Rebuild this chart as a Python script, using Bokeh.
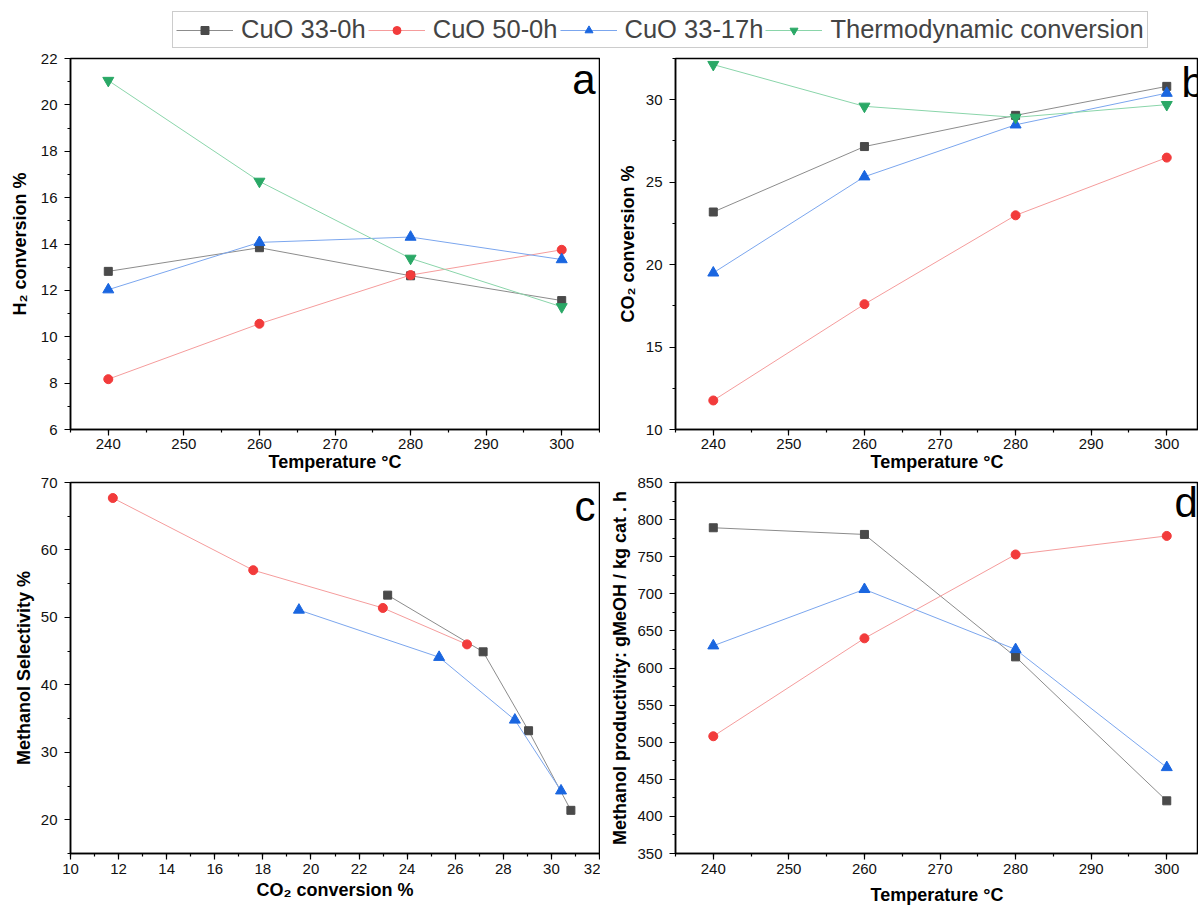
from bokeh.plotting import figure
from bokeh.layouts import column, row
from bokeh.models import Range1d, SingleIntervalTicker, Legend, LegendItem, Label
from bokeh.embed import file_html
from bokeh.resources import INLINE

# ---------------- data ----------------
temperature = [240, 260, 280, 300]
series_names = ["CuO 33-0h", "CuO 50-0h", "CuO 33-17h", "Thermodynamic conversion"]

h2_conv_33_0h = [12.82, 13.84, 12.63, 11.56]
h2_conv_50_0h = [8.17, 10.56, 12.66, 13.75]
h2_conv_33_17h = [12.03, 14.07, 14.30, 13.33]
h2_conv_thermo = [21.05, 16.70, 13.38, 11.29]

co2_conv_33_0h = [23.19, 27.16, 29.05, 30.81]
co2_conv_50_0h = [11.76, 17.60, 22.99, 26.49]
co2_conv_33_17h = [19.50, 25.33, 28.48, 30.40]
co2_conv_thermo = [32.13, 29.60, 28.93, 29.70]

meoh_sel_33_0h = [53.3, 44.9, 33.2, 21.4]
meoh_sel_50_0h = [67.7, 57.0, 51.4, 46.0]
meoh_sel_33_17h = [51.1, 44.1, 34.8, 24.3]

meoh_prod_33_0h = [789, 780, 615, 421]
meoh_prod_50_0h = [508, 640, 753, 778]
meoh_prod_33_17h = [630, 706, 625, 466]

# ---------------- styles ----------------
FONT = "Liberation Sans"
STY = [
    dict(marker="square", color="#4a4a4a", line="#8c8c8c", size=8),
    dict(marker="circle", color="#f23b3b", line="#f59c9c", size=9),
    dict(marker="triangle", color="#1a66e0", line="#7ba6ee", size=11),
    dict(marker="inverted_triangle", color="#2aa866", line="#8ad5aa", size=11),
]


def draw(p, xs, ys, k):
    s = STY[k]
    lr = p.line(xs, ys, line_color=s["line"], line_width=1)
    sr = p.scatter(xs, ys, marker=s["marker"], size=s["size"],
                   fill_color=s["color"], line_color=s["color"])
    return lr, sr


def panel(width, height, xr, yr, left, right, top, bottom, xint, yint,
          xlabel, ylabel, xtick_stand, xstand, ystand):
    p = figure(width=width, height=height, x_range=Range1d(*xr), y_range=Range1d(*yr),
               toolbar_location=None, output_backend="svg",
               min_border_left=left, min_border_right=right,
               min_border_top=top, min_border_bottom=bottom,
               background_fill_color="white", border_fill_color="white")
    p.outline_line_color = "black"
    p.outline_line_width = 1.5
    p.xgrid.visible = False
    p.ygrid.visible = False
    p.xaxis.ticker = SingleIntervalTicker(interval=xint, num_minor_ticks=2)
    p.yaxis.ticker = SingleIntervalTicker(interval=yint, num_minor_ticks=2)
    for ax in (p.xaxis[0], p.yaxis[0]):
        ax.axis_line_width = 1.5
        ax.axis_line_color = "black"
        ax.major_tick_in = 0
        ax.major_tick_out = 6
        ax.minor_tick_in = 0
        ax.minor_tick_out = 3
        ax.major_tick_line_width = 1.2
        ax.minor_tick_line_width = 1.2
        ax.major_label_text_font = FONT
        ax.major_label_text_font_size = "15px"
        ax.major_label_text_color = "#111111"
        ax.axis_label_text_font = FONT
        ax.axis_label_text_font_size = "18px"
        ax.axis_label_text_font_style = "bold"
        ax.axis_label_text_color = "black"
    p.xaxis.major_label_standoff = xtick_stand
    p.yaxis.major_label_standoff = 7
    p.xaxis.axis_label = xlabel
    p.yaxis.axis_label = ylabel
    p.xaxis.axis_label_standoff = xstand
    p.yaxis.axis_label_standoff = ystand
    return p


def letter(p, txt, x, y, align):
    p.add_layout(Label(x=x, y=y, x_units="screen", y_units="screen", text=txt,
                       text_font=FONT, text_font_size="42px", text_align=align,
                       text_baseline="alphabetic", text_color="black"))


# ---------------- legend row ----------------
leg = figure(width=1198, height=50, x_range=Range1d(0, 1), y_range=Range1d(0, 1),
             toolbar_location=None, output_backend="svg", x_axis_type=None,
             y_axis_type=None, min_border=0, outline_line_color=None)
items = []
for k, ys in enumerate([h2_conv_33_0h, h2_conv_50_0h, h2_conv_33_17h, h2_conv_thermo]):
    lr, sr = draw(leg, temperature, ys, k)
    items.append(LegendItem(label=series_names[k], renderers=[lr, sr]))
legend = Legend(items=items, orientation="horizontal", location=(172, 2),
                label_text_font=FONT, label_text_font_size="25.5px",
                glyph_width=57, glyph_height=20, label_standoff=8, spacing=2,
                padding=3, margin=0, border_line_color="#9a9a9a", border_line_width=1,
                background_fill_alpha=1.0)
leg.add_layout(legend, "center")

# ---------------- panel a ----------------
pa = panel(600, 425, (235, 305), (6, 22), 70, 1, 8, 46, 10, 2,
           "Temperature °C", "H₂ conversion %", 3, 0, 8)
for k, ys in enumerate([h2_conv_33_0h, h2_conv_50_0h, h2_conv_33_17h, h2_conv_thermo]):
    draw(pa, temperature, ys, k)
letter(pa, "a", 525, 350, "right")

# ---------------- panel b ----------------
pb = panel(598, 425, (235, 304.2), (10, 32.5), 75, 0, 8, 46, 10, 5,
           "Temperature °C", "CO₂ conversion %", 3, 0, 5)
for k, ys in enumerate([co2_conv_33_0h, co2_conv_50_0h, co2_conv_33_17h, co2_conv_thermo]):
    draw(pb, temperature, ys, k)
letter(pb, "b", 506, 347, "left")

# ---------------- panel c ----------------
pc = panel(600, 433, (10, 32), (15, 70), 70, 1, 7, 55, 2, 10,
           "CO₂ conversion %", "Methanol Selectivity %", 4, 3, 4)
for k, (xs, ys) in enumerate([(co2_conv_33_0h, meoh_sel_33_0h),
                              (co2_conv_50_0h, meoh_sel_50_0h),
                              (co2_conv_33_17h, meoh_sel_33_17h)]):
    draw(pc, xs, ys, k)
letter(pc, "c", 525, 347, "right")

# ---------------- panel d ----------------
pd_ = panel(598, 433, (235, 304.2), (350, 850), 75, 0, 7, 55, 10, 50,
            "Temperature °C", "Methanol productivity: gMeOH / kg cat . h", 4, 8, 4)
for k, ys in enumerate([meoh_prod_33_0h, meoh_prod_50_0h, meoh_prod_33_17h]):
    draw(pd_, temperature, ys, k)
letter(pd_, "d", 499, 351, "left")

p = column(leg, row(pa, pb), row(pc, pd_))
open("out.html", "w").write(file_html(p, INLINE))
